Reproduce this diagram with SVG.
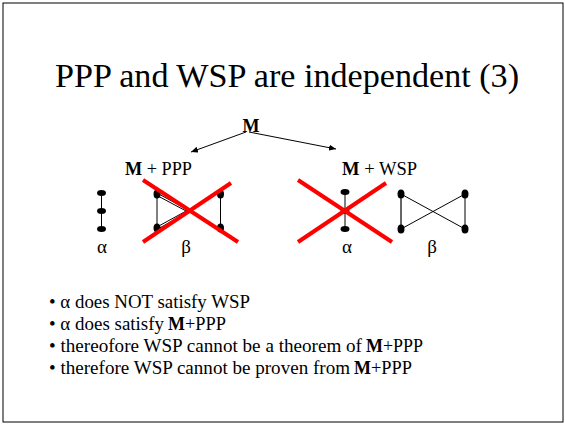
<svg xmlns="http://www.w3.org/2000/svg" width="565" height="424" viewBox="0 0 565 424" font-family="Liberation Serif">
  <defs>
    <marker id="arrow" markerWidth="8" markerHeight="6" refX="7" refY="3" orient="auto" markerUnits="userSpaceOnUse">
      <path d="M0,0 L7,3 L0,6 Z" fill="#000"/>
    </marker>
  </defs>

  <rect x="3" y="3" width="560" height="419" fill="#fff" stroke="#000" stroke-width="1"/>

  <text x="55" y="87" font-size="33" style="font-family:'Liberation Serif',serif" textLength="464" lengthAdjust="spacingAndGlyphs">PPP and WSP are independent (3)</text>

  <g id="root"><text x="251" y="132" font-size="18" font-weight="bold" style="font-family:'Liberation Serif',serif" text-anchor="middle">M</text></g>
  <g id="m-ppp"><text x="125" y="175" font-size="18" style="font-family:'Liberation Serif',serif" textLength="67" lengthAdjust="spacingAndGlyphs"><tspan font-weight="bold">M</tspan> + PPP</text></g>
  <g id="m-wsp"><text x="342" y="175" font-size="18" style="font-family:'Liberation Serif',serif" textLength="75" lengthAdjust="spacingAndGlyphs"><tspan font-weight="bold">M</tspan> + WSP</text></g>

  <g id="connectors" stroke="#000" stroke-width="1" fill="none">
    <line x1="246" y1="132" x2="191" y2="152" marker-end="url(#arrow)"/>
    <line x1="249" y1="132" x2="336" y2="149" marker-end="url(#arrow)"/>
  </g>

  <!-- alpha model under M + PPP -->
  <g id="alpha-left">
    <line x1="101.5" y1="193" x2="101.5" y2="229" stroke="#000"/>
    <ellipse cx="101.5" cy="193" rx="4.5" ry="3"/>
    <ellipse cx="101.5" cy="211" rx="4.5" ry="3"/>
    <ellipse cx="101.5" cy="229" rx="4.5" ry="3"/>
    <text x="102" y="253" font-size="19" style="font-family:'Liberation Serif',serif" text-anchor="middle">α</text>
  </g>

  <!-- beta model under M + PPP, crossed out -->
  <g id="beta-left">
    <g stroke="#000" stroke-width="1">
      <line x1="157" y1="194" x2="157" y2="228"/>
      <line x1="220.5" y1="194" x2="220.5" y2="228"/>
      <line x1="157" y1="193" x2="188" y2="210"/>
      <line x1="157" y1="195.5" x2="188" y2="212"/>
      <line x1="157" y1="227" x2="188" y2="210"/>
      <line x1="157" y1="229.5" x2="188" y2="212"/>
    </g>
    <ellipse cx="157" cy="194" rx="3.5" ry="4.5"/>
    <ellipse cx="157" cy="228" rx="3.5" ry="4.5"/>
    <ellipse cx="220.5" cy="194" rx="3.5" ry="4.5"/>
    <ellipse cx="220.5" cy="228" rx="3.5" ry="4.5"/>
    <g stroke="#ff0000" stroke-width="4">
      <line x1="143" y1="180" x2="238" y2="242"/>
      <line x1="231" y1="183" x2="143" y2="242"/>
    </g>
    <text x="186" y="253" font-size="19" style="font-family:'Liberation Serif',serif" text-anchor="middle">β</text>
  </g>

  <!-- alpha model under M + WSP, crossed out -->
  <g id="alpha-right">
    <line x1="345" y1="192" x2="345" y2="229" stroke="#000"/>
    <ellipse cx="345" cy="192" rx="4.5" ry="3"/>
    <ellipse cx="345" cy="211" rx="4.5" ry="3"/>
    <ellipse cx="345" cy="229" rx="4.5" ry="3"/>
    <g stroke="#ff0000" stroke-width="4">
      <line x1="298" y1="180" x2="392" y2="242"/>
      <line x1="386" y1="183" x2="298" y2="242"/>
    </g>
    <text x="347" y="253" font-size="19" style="font-family:'Liberation Serif',serif" text-anchor="middle">α</text>
  </g>

  <!-- beta model under M + WSP -->
  <g id="beta-right">
    <line x1="401" y1="194" x2="401" y2="229" stroke="#666" stroke-width="2"/>
    <g stroke="#000" stroke-width="1">
      <line x1="465" y1="194" x2="465" y2="229"/>
      <line x1="401" y1="194" x2="465" y2="229"/>
      <line x1="401" y1="229" x2="465" y2="194"/>
    </g>
    <ellipse cx="401" cy="194" rx="3.5" ry="4.5"/>
    <ellipse cx="401" cy="229" rx="3.5" ry="4.5"/>
    <ellipse cx="465" cy="194" rx="3.5" ry="4.5"/>
    <ellipse cx="465" cy="229" rx="3.5" ry="4.5"/>
    <text x="432" y="253" font-size="19" style="font-family:'Liberation Serif',serif" text-anchor="middle">β</text>
  </g>

  <!-- argument: each bold M is set as its own run -->
  <g id="bullets" font-size="19" style="font-family:'Liberation Serif',serif">
    <text x="49" y="308" textLength="201" lengthAdjust="spacingAndGlyphs">• α does NOT satisfy WSP</text>

    <text x="49" y="330" textLength="115" lengthAdjust="spacingAndGlyphs">• α does satisfy</text>
    <text x="168" y="330" font-weight="bold" textLength="17" lengthAdjust="spacingAndGlyphs">M</text>
    <text x="185" y="330" textLength="41" lengthAdjust="spacingAndGlyphs">+PPP</text>

    <text x="49" y="352" textLength="313" lengthAdjust="spacingAndGlyphs">• thereofore WSP cannot be a theorem of</text>
    <text x="366" y="352" font-weight="bold" textLength="17" lengthAdjust="spacingAndGlyphs">M</text>
    <text x="383" y="352" textLength="40" lengthAdjust="spacingAndGlyphs">+PPP</text>

    <text x="49" y="374" textLength="301" lengthAdjust="spacingAndGlyphs">• therefore WSP cannot be proven from</text>
    <text x="354" y="374" font-weight="bold" textLength="17" lengthAdjust="spacingAndGlyphs">M</text>
    <text x="371" y="374" textLength="41" lengthAdjust="spacingAndGlyphs">+PPP</text>
  </g>
</svg>
